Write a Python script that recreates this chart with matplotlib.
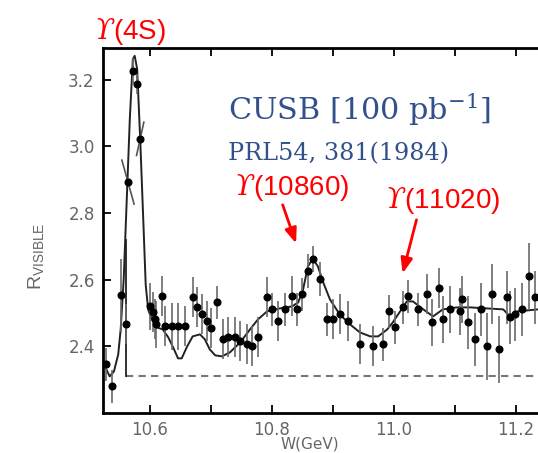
import matplotlib
matplotlib.use("Agg")
import matplotlib.pyplot as plt
from matplotlib.ticker import MultipleLocator, FixedLocator
import numpy as np

plt.rcParams["mathtext.fontset"] = "custom"
plt.rcParams["mathtext.rm"] = "Liberation Sans"
plt.rcParams["mathtext.it"] = "DejaVu Serif:italic"

# 数据点 (W, R, 误差)
w_pts = [10.528, 10.538, 10.552, 10.561, 10.572, 10.579,
         10.600, 10.605, 10.608, 10.610, 10.620, 10.625, 10.636, 10.646, 10.657,
         10.670, 10.677, 10.685, 10.693, 10.700, 10.710, 10.720, 10.728, 10.739,
         10.748, 10.759, 10.767, 10.777, 10.792,
         10.800, 10.810, 10.821, 10.833, 10.841, 10.849, 10.859, 10.867, 10.879,
         10.890, 10.900, 10.911, 10.925, 10.944, 10.966, 10.982, 10.992, 11.002,
         11.015, 11.023, 11.039, 11.054, 11.062, 11.074, 11.080, 11.092, 11.108,
         11.111, 11.121, 11.133, 11.143, 11.152, 11.161, 11.172, 11.185, 11.190,
         11.198, 11.210, 11.221, 11.231]
r_pts = [2.346, 2.280, 2.553, 2.466, 3.227, 3.188,
         2.520, 2.502, 2.481, 2.466, 2.550, 2.460, 2.460, 2.460, 2.460,
         2.547, 2.517, 2.496, 2.475, 2.454, 2.532, 2.421, 2.427, 2.427,
         2.415, 2.406, 2.400, 2.427, 2.547,
         2.511, 2.475, 2.511, 2.550, 2.511, 2.556, 2.626, 2.662, 2.602,
         2.481, 2.481, 2.496, 2.475, 2.406, 2.400, 2.406, 2.505, 2.457,
         2.517, 2.550, 2.511, 2.556, 2.472, 2.574, 2.481, 2.511, 2.505,
         2.541, 2.472, 2.421, 2.511, 2.400, 2.556, 2.391, 2.547, 2.487,
         2.496, 2.511, 2.611, 2.547]
r_err = [0.05, 0.05, 0.11, 0.06, 0.04, 0.03,
         0.07, 0.06, 0.06, 0.07, 0.06, 0.06, 0.07, 0.07, 0.06,
         0.06, 0.06, 0.06, 0.06, 0.06, 0.05, 0.06, 0.06, 0.06,
         0.06, 0.06, 0.06, 0.06, 0.06,
         0.05, 0.06, 0.05, 0.06, 0.05, 0.05, 0.05, 0.04, 0.05,
         0.05, 0.06, 0.06, 0.06, 0.06, 0.06, 0.05, 0.05, 0.05,
         0.05, 0.05, 0.05, 0.06, 0.07, 0.06, 0.07, 0.07, 0.07,
         0.07, 0.08, 0.08, 0.08, 0.10, 0.09, 0.10, 0.08, 0.08,
         0.08, 0.08, 0.10, 0.08]

# 峰两侧带斜误差棒的点 (W, R, dW, dR)
w_slant = [10.564, 10.584]
r_slant = [2.893, 3.023]
dw_slant = [-0.010, 0.006]
dr_slant = [0.066, 0.050]

# 拟合曲线
w_fit = [10.523, 10.530, 10.534, 10.541, 10.548, 10.552, 10.557, 10.562, 10.567,
         10.572, 10.575, 10.579, 10.584, 10.589, 10.593, 10.597, 10.603, 10.611,
         10.621, 10.630, 10.638, 10.646, 10.652, 10.661, 10.670, 10.682, 10.690,
         10.698, 10.707, 10.718, 10.731, 10.748, 10.764, 10.777, 10.792, 10.813,
         10.833, 10.843, 10.851, 10.859, 10.867, 10.875, 10.884, 10.895, 10.911,
         10.928, 10.944, 10.961, 10.974, 10.989, 10.998, 11.010, 11.021, 11.031,
         11.048, 11.064, 11.080, 11.103, 11.125, 11.179, 11.190, 11.202, 11.236]
r_fit = [2.355, 2.325, 2.310, 2.325, 2.376, 2.451, 2.602, 2.842, 3.083,
         3.263, 3.272, 3.233, 3.023, 2.782, 2.586, 2.511, 2.481, 2.457,
         2.451, 2.427, 2.397, 2.364, 2.364, 2.400, 2.430, 2.436, 2.421,
         2.391, 2.373, 2.370, 2.382, 2.412, 2.451, 2.481, 2.505, 2.514,
         2.520, 2.532, 2.571, 2.641, 2.662, 2.641, 2.592, 2.541, 2.496,
         2.466, 2.442, 2.430, 2.430, 2.451, 2.472, 2.505, 2.535, 2.535,
         2.511, 2.490, 2.511, 2.517, 2.517, 2.511, 2.490, 2.505, 2.511]

continuum = 2.31
threshold_w = 10.561
threshold_top = 2.72

fig = plt.figure(figsize=(5.38, 4.53), dpi=100)
ax = fig.add_axes([0.1914, 0.0883, 0.8086, 0.806])

ax.plot(w_fit, r_fit, color="#222222", lw=1.4, zorder=2)
ax.plot([threshold_w, 11.236], [continuum, continuum], color="#777777", lw=1.5,
        dashes=(3.5, 2.5), zorder=1)
ax.plot([threshold_w, threshold_w], [continuum, threshold_top], color="#222222",
        lw=1.3, zorder=2)

ax.errorbar(w_pts, r_pts, yerr=r_err, fmt="o", ms=4.8, color="black",
            ecolor="#6a6a6a", elinewidth=1.2, capsize=0, zorder=3)
for w, r, dw, dr in zip(w_slant, r_slant, dw_slant, dr_slant):
    ax.plot([w + dw, w - dw], [r + dr, r - dr], color="#555555", lw=1.2, zorder=3)
ax.plot(w_slant, r_slant, "o", ms=4.8, color="black", zorder=4)

ax.set_xlim(10.523, 11.236)
ax.set_ylim(2.2, 3.296)

ax.xaxis.set_major_locator(FixedLocator([10.6, 10.8, 11.0, 11.2]))
ax.xaxis.set_minor_locator(MultipleLocator(0.1))
ax.set_xticklabels(["10.6", "10.8", "11.0", "11.2"])
ax.yaxis.set_major_locator(FixedLocator([2.4, 2.6, 2.8, 3.0, 3.2]))
ax.set_yticklabels(["2.4", "2.6", "2.8", "3.0", "3.2"])
ax.tick_params(axis="both", which="both", direction="in", length=6, width=1.3,
               colors="black", labelcolor="#666666", labelsize=12, pad=6)
ax.tick_params(axis="x", which="both", top=True)
ax.tick_params(axis="y", right=False)

for s in ["left", "top", "bottom"]:
    ax.spines[s].set_linewidth(2.0)
ax.spines["right"].set_visible(False)

ax.set_xlabel("W(GeV)", fontsize=11, color="#666666")
ax.xaxis.set_label_coords(0.476, -0.065)
ax.set_ylabel(r"$\mathrm{R}_{\mathrm{VISIBLE}}$", fontsize=14, color="#666666")
ax.yaxis.set_label_coords(-0.13, 0.43)

navy = "#32508a"
ax.text(10.728, 3.11, "CUSB [100 pb$^{\\mathregular{-1}}$]", fontsize=21.8,
        family="DejaVu Serif", color=navy, ha="left", va="center")
ax.text(10.728, 2.977, "PRL54, 381(1984)", fontsize=17.2,
        family="DejaVu Serif", color=navy, ha="left", va="center")

red = "#ff0000"
ax.text(10.567, 3.345, "$\\mathit{ϒ}$(4S)", fontsize=20, color=red,
        family="Liberation Sans", ha="center", va="center", clip_on=False)
ax.text(10.832, 2.878, "$\\mathit{ϒ}$(10860)", fontsize=20, color=red,
        family="Liberation Sans", ha="center", va="center")
ax.text(11.079, 2.839, "$\\mathit{ϒ}$(11020)", fontsize=20, color=red,
        family="Liberation Sans", ha="center", va="center")

arrow = dict(arrowstyle="-|>,head_length=0.9,head_width=0.35", color=red, lw=2)
ax.annotate("", xy=(10.841, 2.701), xytext=(10.816, 2.833), arrowprops=arrow)
ax.annotate("", xy=(11.013, 2.611), xytext=(11.038, 2.788), arrowprops=arrow)

fig.savefig("out.png", dpi=100)
